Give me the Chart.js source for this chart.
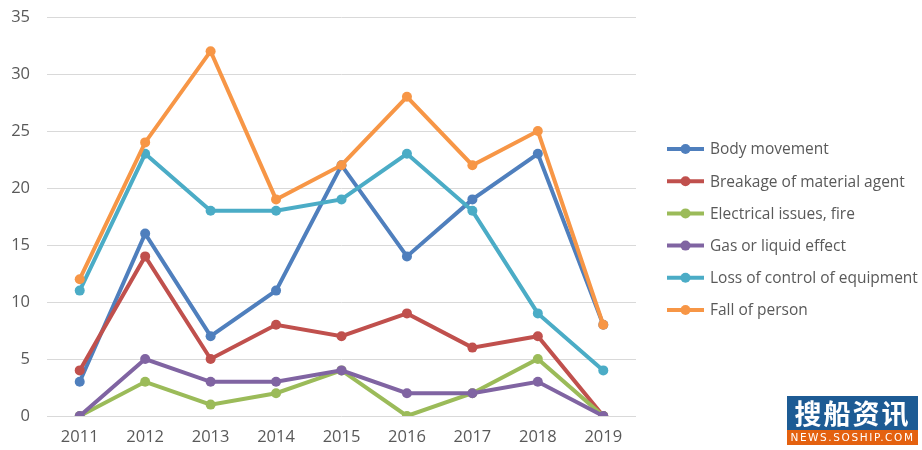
<!DOCTYPE html>
<html>
<head>
<meta charset="utf-8">
<script src="https://cdn.jsdelivr.net/npm/chart.js@4"></script>
<style>
    html, body { margin: 0; padding: 0; background: #fff; }
    #wrap { position: relative; width: 922px; height: 450px; }
    #chart { display: block; }
    .logo { position: absolute; left: 787px; top: 396px; width: 131px; height: 49px; font-family: "Noto Sans CJK SC", sans-serif; }
    .logo-top { height: 34px; background: #1d5b94; color: #fff; font-size: 27px; line-height: 34px; text-align: center; letter-spacing: 2px; font-weight: bold; }
    .logo-bottom { height: 15px; background: #e4610f; color: #fff; font-size: 10.5px; line-height: 15px; text-align: center; letter-spacing: 1.6px; font-family: "DejaVu Sans", sans-serif; }
</style>
</head>
<body>
<div id="wrap">
    <canvas id="chart" width="922" height="450"></canvas>
    <div class="logo">
        <div class="logo-top">搜船资讯</div>
        <div class="logo-bottom">NEWS.SOSHIP.COM</div>
    </div>
</div>
<script>
const years = ["2011", "2012", "2013", "2014", "2015", "2016", "2017", "2018", "2019"];

const seriesNames = [
    "Body movement",
    "Breakage of material agent",
    "Electrical issues, fire",
    "Gas or liquid effect",
    "Loss of control of equipment",
    "Fall of person"
];

const bodyMovement = [3, 16, 7, 11, 22, 14, 19, 23, 8];
const breakage = [4, 14, 5, 8, 7, 9, 6, 7, 0];
const electrical = [0, 3, 1, 2, 4, 0, 2, 5, 0];
const gasLiquid = [0, 5, 3, 3, 4, 2, 2, 3, 0];
const lossOfControl = [11, 23, 18, 18, 19, 23, 18, 9, 4];
const fallOfPerson = [12, 24, 32, 19, 22, 28, 22, 25, 8];

const yTicks = [0, 5, 10, 15, 20, 25, 30, 35];

const seriesValues = [bodyMovement, breakage, electrical, gasLiquid, lossOfControl, fallOfPerson];
const seriesColors = ["#4f7fbd", "#c0504d", "#9bbb59", "#8064a2", "#4bacc6", "#f79646"];

const FONT = "'Open Sans', sans-serif";
const TEXT_COLOR = "#595959";

let datasets = [];
for(let i = 0; i < seriesValues.length; i++){
    datasets.push({
        label: seriesNames[i],
        data: seriesValues[i],
        borderColor: seriesColors[i],
        backgroundColor: seriesColors[i],
        borderWidth: 4,
        pointRadius: 5,
        pointBorderWidth: 0,
        pointBackgroundColor: seriesColors[i],
        tension: 0,
        // later series sit on top, like the original
        order: seriesValues.length - i
    });
}

// legend on the right: line with a dot, then the name
const sideLegend = {
    id: "sideLegend",
    afterDraw(chart){
        const ctx = chart.ctx;
        const x0 = 667, lineW = 37, gap = 32.2, y0 = 149;
        ctx.save();
        ctx.font = "15.5px " + FONT;
        ctx.textBaseline = "middle";
        chart.data.datasets.forEach((ds, i)=>{
            const y = y0 + i * gap;
            ctx.strokeStyle = ds.borderColor;
            ctx.lineWidth = 4;
            ctx.beginPath();
            ctx.moveTo(x0, y);
            ctx.lineTo(x0 + lineW, y);
            ctx.stroke();
            ctx.fillStyle = ds.borderColor;
            ctx.beginPath();
            ctx.arc(x0 + lineW / 2, y, 5, 0, Math.PI * 2);
            ctx.fill();
            ctx.fillStyle = TEXT_COLOR;
            ctx.fillText(ds.label, x0 + lineW + 6, y + 1);
        });
        ctx.restore();
    }
};

new Chart(document.getElementById("chart"), {
    type: "line",
    data: { labels: years, datasets },
    options: {
        responsive: false,
        animation: false,
        layout: { padding: { top: 17, right: 286, bottom: 0, left: 0 } },
        plugins: {
            legend: { display: false },
            tooltip: { enabled: false }
        },
        scales: {
            x: {
                offset: true,
                grid: { display: false, drawTicks: false },
                border: { display: false },
                ticks: { color: TEXT_COLOR, font: { family: FONT, size: 16.5 }, padding: 11, maxRotation: 0 },
                afterFit: (s)=>{ s.height = 34; s.paddingLeft = 0; s.paddingRight = 0; }
            },
            y: {
                min: 0,
                max: 35,
                afterBuildTicks: (s)=>{ s.ticks = yTicks.map(v => ({ value: v })); },
                grid: { color: "#d9d9d9", lineWidth: 1, drawTicks: false },
                border: { display: false },
                ticks: { color: TEXT_COLOR, font: { family: FONT, size: 16.5 }, padding: 17 },
                afterFit: (s)=>{ s.width = 47; s.paddingTop = 0; s.paddingBottom = 0; }
            }
        }
    },
    plugins: [sideLegend]
});
</script>
</body>
</html>
